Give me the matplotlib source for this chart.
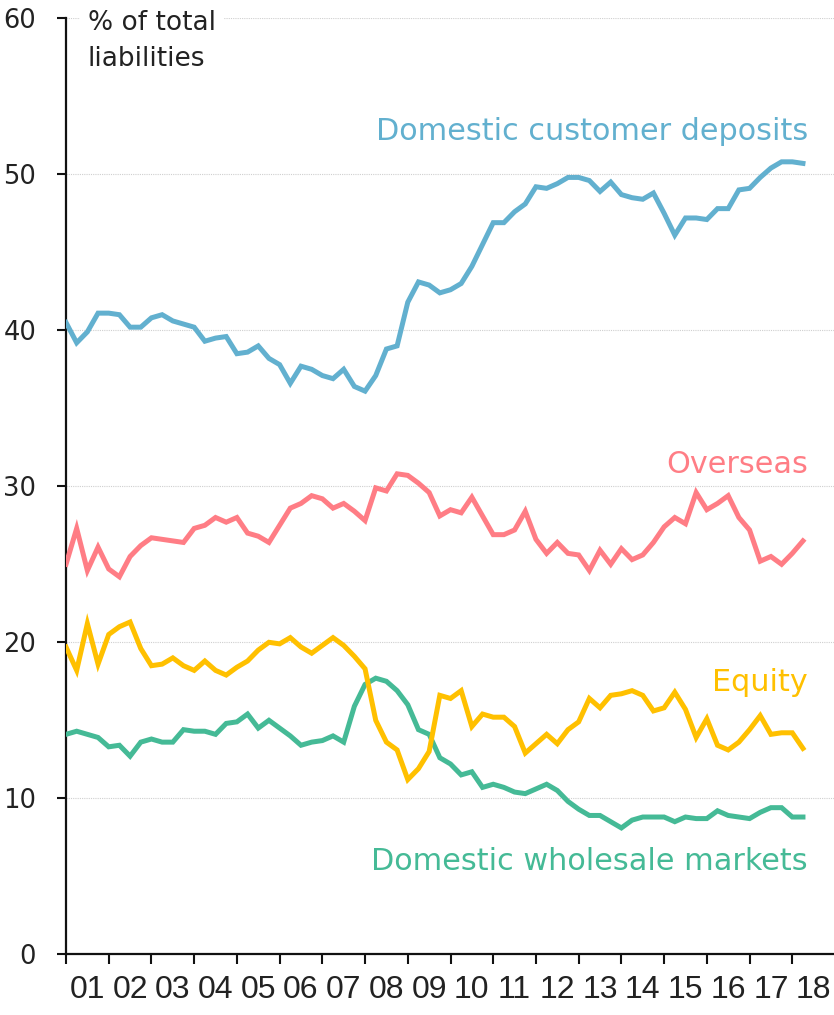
import numpy as np
import pandas as pd
import matplotlib
matplotlib.use("Agg")
import matplotlib.pyplot as plt

# Quarterly shares of total liabilities, 2001 Q1 - 2018 Q2
quarters = pd.period_range("2001Q1", periods=70, freq="Q")

deposits = [40.5, 39.2, 39.9, 41.1, 41.1, 41.0, 40.2, 40.2, 40.8, 41.0,
            40.6, 40.4, 40.2, 39.3, 39.5, 39.6, 38.5, 38.6, 39.0, 38.2,
            37.8, 36.6, 37.7, 37.5, 37.1, 36.9, 37.5, 36.4, 36.1, 37.1,
            38.8, 39.0, 41.8, 43.1, 42.9, 42.4, 42.6, 43.0, 44.1, 45.5,
            46.9, 46.9, 47.6, 48.1, 49.2, 49.1, 49.4, 49.8, 49.8, 49.6,
            48.9, 49.5, 48.7, 48.5, 48.4, 48.8, 47.5, 46.1, 47.2, 47.2,
            47.1, 47.8, 47.8, 49.0, 49.1, 49.8, 50.4, 50.8, 50.8, 50.7]

overseas = [25.0, 27.3, 24.6, 26.1, 24.7, 24.2, 25.5, 26.2, 26.7, 26.6,
            26.5, 26.4, 27.3, 27.5, 28.0, 27.7, 28.0, 27.0, 26.8, 26.4,
            27.5, 28.6, 28.9, 29.4, 29.2, 28.6, 28.9, 28.4, 27.8, 29.9,
            29.7, 30.8, 30.7, 30.2, 29.6, 28.1, 28.5, 28.3, 29.3, 28.1,
            26.9, 26.9, 27.2, 28.4, 26.6, 25.7, 26.4, 25.7, 25.6, 24.6,
            25.9, 25.0, 26.0, 25.3, 25.6, 26.4, 27.4, 28.0, 27.6, 29.6,
            28.5, 28.9, 29.4, 28.0, 27.2, 25.2, 25.5, 25.0, 25.7, 26.5]

equity = [19.7, 18.2, 21.2, 18.6, 20.5, 21.0, 21.3, 19.6, 18.5, 18.6,
          19.0, 18.5, 18.2, 18.8, 18.2, 17.9, 18.4, 18.8, 19.5, 20.0,
          19.9, 20.3, 19.7, 19.3, 19.8, 20.3, 19.8, 19.1, 18.3, 15.0,
          13.6, 13.1, 11.2, 11.9, 13.0, 16.6, 16.4, 16.9, 14.6, 15.4,
          15.2, 15.2, 14.6, 12.9, 13.5, 14.1, 13.5, 14.4, 14.9, 16.4,
          15.8, 16.6, 16.7, 16.9, 16.6, 15.6, 15.8, 16.8, 15.7, 13.9,
          15.1, 13.4, 13.1, 13.6, 14.4, 15.3, 14.1, 14.2, 14.2, 13.2]

wholesale = [14.1, 14.3, 14.1, 13.9, 13.3, 13.4, 12.7, 13.6, 13.8, 13.6,
             13.6, 14.4, 14.3, 14.3, 14.1, 14.8, 14.9, 15.4, 14.5, 15.0,
             14.5, 14.0, 13.4, 13.6, 13.7, 14.0, 13.6, 15.9, 17.3, 17.7,
             17.5, 16.9, 16.0, 14.4, 14.1, 12.6, 12.2, 11.5, 11.7, 10.7,
             10.9, 10.7, 10.4, 10.3, 10.6, 10.9, 10.5, 9.8, 9.3, 8.9,
             8.9, 8.5, 8.1, 8.6, 8.8, 8.8, 8.8, 8.5, 8.8, 8.7,
             8.7, 9.2, 8.9, 8.8, 8.7, 9.1, 9.4, 9.4, 8.8, 8.8]

years = list(range(2001, 2019))
year_labels = ["%02d" % (y % 100) for y in years]
y_ticks = [0, 10, 20, 30, 40, 50, 60]

blue = "#62B0CF"
pink = "#FF7D85"
yellow = "#FFC000"
green = "#45BA96"

x = quarters.year + (quarters.quarter - 1) / 4.0

fig = plt.figure(figsize=(8.34, 10.15), dpi=100)
ax = fig.add_axes([66 / 834, (1015 - 954.3) / 1015, 769 / 834, 936 / 1015])

ax.plot(x, deposits, color=blue, lw=3.6, solid_joinstyle="miter", zorder=3)
ax.plot(x, overseas, color=pink, lw=3.6, solid_joinstyle="miter", zorder=3)
ax.plot(x, wholesale, color=green, lw=3.6, solid_joinstyle="miter", zorder=3)
ax.plot(x, equity, color=yellow, lw=3.6, solid_joinstyle="miter", zorder=3)

ax.set_xlim(2001, 2019)
ax.set_ylim(0, 60)

for s in ["top", "right"]:
    ax.spines[s].set_visible(False)
for s in ["left", "bottom"]:
    ax.spines[s].set_linewidth(1.6)
    ax.spines[s].set_color("#111111")

ax.set_yticks(y_ticks)
ax.set_yticklabels([str(v) for v in y_ticks], fontsize=18.5, color="#222222")
ax.tick_params(axis="y", length=6.5, width=1.5, pad=15, color="#111111")
ax.yaxis.grid(True, color="#cfcfcf", linestyle=(0, (1, 1)), linewidth=0.8, zorder=0)

# year ticks at year start, labels centred between them
ax.set_xticks(years)
ax.set_xticklabels([])
ax.set_xticks([y + 0.5 for y in years], minor=True)
ax.set_xticklabels(year_labels, minor=True, fontsize=23, color="#222222",
                   family=["Liberation Sans", "DejaVu Sans"])
ax.tick_params(axis="x", which="major", length=7, width=1.5, color="#111111")
ax.tick_params(axis="x", which="minor", length=0, pad=15)

box = dict(facecolor="white", edgecolor="none", pad=3)
lx = 2018.37
ax.text(lx, 52.2, "Domestic customer deposits", color=blue, fontsize=21.8,
        ha="right", va="baseline", bbox=box, zorder=4)
ax.text(lx, 30.83, "Overseas", color=pink, fontsize=21.8,
        ha="right", va="baseline", bbox=box, zorder=4)
ax.text(lx, 16.9, "Equity", color=yellow, fontsize=21.8,
        ha="right", va="baseline", bbox=box, zorder=4)
ax.text(lx, 5.4, "Domestic wholesale markets", color=green, fontsize=21.8,
        ha="right", va="baseline", bbox=box, zorder=4)

fig.text(88 / 834, 1 - 10 / 1015, "% of total\nliabilities", fontsize=19,
         color="#222222", ha="left", va="top", linespacing=1.5,
         bbox=dict(facecolor="white", edgecolor="none", pad=6))

fig.savefig("out.png", dpi=100)
